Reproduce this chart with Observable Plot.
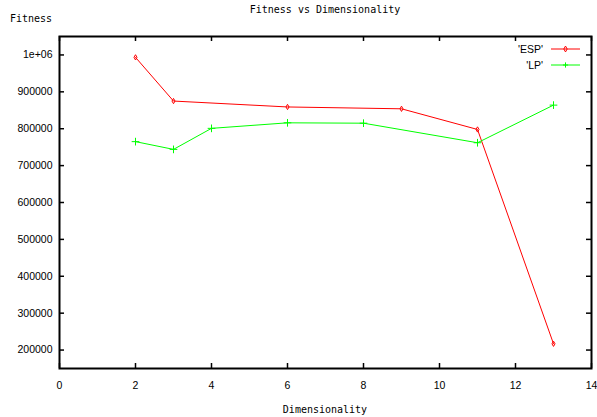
<!DOCTYPE html>
<html>
<head>
<meta charset="utf-8">
<script src="https://cdn.jsdelivr.net/npm/d3@7"></script>
<script src="https://cdn.jsdelivr.net/npm/@observablehq/plot@0.6"></script>
<style>
  html, body { margin: 0; padding: 0; background: #fff; }
  #chart { width: 597px; height: 417px; }
</style>
</head>
<body>
<div id="chart"></div>
<script>
// ---- data ----
const espX = [2, 3, 6, 9, 11, 13];
const espY = [993500, 875000, 859000, 854000, 798000, 217000];
const lpX = [2, 3, 4, 6, 8, 11, 13];
const lpY = [765000, 744000, 801000, 816000, 815000, 762000, 864000];
const xTicks = [0, 2, 4, 6, 8, 10, 12, 14];
const yTicks = [200000, 300000, 400000, 500000, 600000, 700000, 800000, 900000, 1000000];
const yTickLabels = ["200000", "300000", "400000", "500000", "600000", "700000", "800000", "900000", "1e+06"];
const seriesNames = ["'ESP'", "'LP'"];
const seriesColors = ["#ff0000", "#00ff00"];
const title = "Fitness vs Dimensionality";
const xLabel = "Dimensionality";
const yLabel = "Fitness";

const esp = espX.map((x, i) => ({x, y: espY[i]}));
const lp = lpX.map((x, i) => ({x, y: lpY[i]}));

const W = 597, H = 417;
const mL = 59, mR = 6, mT = 36, mB = 49;
const plotW = W - mL - mR, plotH = H - mT - mB;
const tick = 5;
const tickFont = "'Liberation Sans', Arial, sans-serif";
const monoFont = "'DejaVu Sans Mono', 'Liberation Mono', monospace";

const chart = Plot.plot({
  width: W,
  height: H,
  marginLeft: mL,
  marginRight: mR,
  marginTop: mT,
  marginBottom: mB,
  style: {fontFamily: tickFont, fontSize: "10.5px", color: "#000", background: "#fff"},
  x: {domain: [0, 14]},
  y: {domain: [150000, 1050000]},
  marks: [
    Plot.axisX({ticks: xTicks, tickSize: 0, tickPadding: 13, label: null, tickFormat: d => String(d)}),
    Plot.axisY({ticks: yTicks, tickSize: 0, tickPadding: 7, label: null,
      tickFormat: d => yTickLabels[yTicks.indexOf(d)]}),
    // inward ticks on all four sides
    Plot.tickX(xTicks, {x: d => d, insetTop: plotH - tick, stroke: "#000", strokeWidth: 1.5}),
    Plot.tickX(xTicks, {x: d => d, insetBottom: plotH - tick, stroke: "#000", strokeWidth: 1.5}),
    Plot.tickY(yTicks, {y: d => d, insetRight: plotW - tick, stroke: "#000", strokeWidth: 1.5}),
    Plot.tickY(yTicks, {y: d => d, insetLeft: plotW - tick, stroke: "#000", strokeWidth: 1.5}),
    Plot.line(esp, {x: "x", y: "y", stroke: seriesColors[0], strokeWidth: 1}),
    Plot.dot(esp, {x: "x", y: "y", symbol: "diamond", r: 1.6, stroke: seriesColors[0], strokeWidth: 1, fill: "none"}),
    Plot.line(lp, {x: "x", y: "y", stroke: seriesColors[1], strokeWidth: 1}),
    Plot.dot(lp, {x: "x", y: "y", symbol: "plus", r: 2.6, stroke: seriesColors[1], strokeWidth: 1}),
    Plot.frame({stroke: "#000", strokeWidth: 2})
  ]
});
document.getElementById("chart").appendChild(chart);

// titles and legend
const svg = d3.select(chart);
svg.append("text")
  .attr("x", mL + plotW / 2).attr("y", 13)
  .attr("text-anchor", "middle")
  .attr("font-family", monoFont).attr("font-size", "10px").attr("fill", "#000")
  .text(title);
svg.append("text")
  .attr("x", 10).attr("y", 22)
  .attr("text-anchor", "start")
  .attr("font-family", monoFont).attr("font-size", "10px").attr("fill", "#000")
  .text(yLabel);
svg.append("text")
  .attr("x", mL + plotW / 2).attr("y", 413)
  .attr("text-anchor", "middle")
  .attr("font-family", monoFont).attr("font-size", "10px").attr("fill", "#000")
  .text(xLabel);

const leg = svg.append("g");
seriesNames.forEach((name, i) => {
  const yy = 49 + i * 16;
  leg.append("text")
    .attr("x", 543).attr("y", yy).attr("dy", "0.35em")
    .attr("text-anchor", "end")
    .attr("font-family", tickFont).attr("font-size", "10.5px").attr("fill", "#000")
    .text(name);
  leg.append("line")
    .attr("x1", 551).attr("x2", 580).attr("y1", yy).attr("y2", yy)
    .attr("stroke", seriesColors[i]).attr("stroke-width", 1);
  if (i === 0) {
    leg.append("path")
      .attr("d", d3.symbol(d3.symbolDiamond, 10)())
      .attr("transform", `translate(565.5,${yy})`)
      .attr("fill", "none").attr("stroke", seriesColors[i]);
  } else {
    leg.append("path")
      .attr("d", "M-2.6,0H2.6M0,-2.6V2.6")
      .attr("transform", `translate(565.5,${yy})`)
      .attr("fill", "none").attr("stroke", seriesColors[i]);
  }
});
</script>
</body>
</html>
